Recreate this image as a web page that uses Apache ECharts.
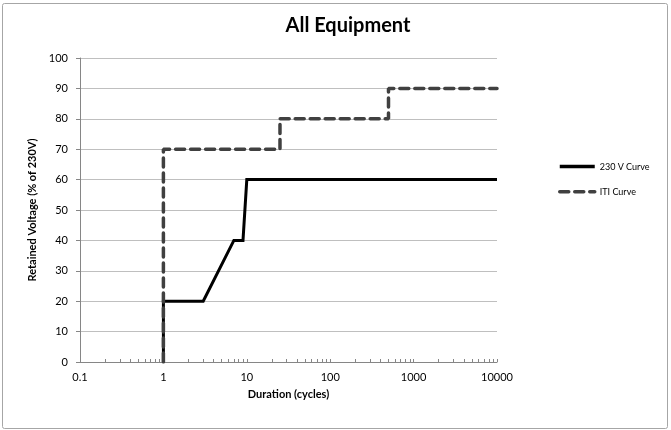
<!DOCTYPE html>
<html>
<head>
<meta charset="utf-8">
<script src="https://cdn.jsdelivr.net/npm/echarts@6/dist/echarts.min.js"></script>
<style>
html,body{margin:0;padding:0;background:#fff;}
#c{width:671px;height:430px;}
</style>
</head>
<body>
<div id="c"></div>
<script>
const titleText = "All Equipment";
const xAxisName = "Duration (cycles)";
const yAxisName = "Retained Voltage (% of 230V)";
const seriesNames = ["230 V Curve", "ITI Curve"];
const curve230 = [[1,0],[1,20],[3,20],[7,40],[9,40],[10,60],[10000,60]];
const curveITI = [[1,0],[1,70],[25,70],[25,80],[500,80],[500,90],[10000,90]];

const FONT = "Lato, 'Open Sans', sans-serif";
const chart = echarts.init(document.getElementById('c'), null, {renderer:'canvas'});
chart.setOption({
  animation:false,
  backgroundColor:'#fff',
  graphic:[{type:'rect', shape:{x:2.5,y:3.5,width:665,height:425,r:2}, style:{fill:'none',stroke:'#a6a6a6',lineWidth:1}, silent:true}],
  title:{text:titleText,left:343,top:11,textAlign:'center',textStyle:{fontFamily:FONT,fontSize:20,fontWeight:'bold',color:'#000'}},
  legend:{
    orient:'vertical', left:553, top:156, itemGap:14, itemWidth:35, itemHeight:14,
    itemStyle:{opacity:0},
    lineStyle:{width:3.5},
    textStyle:{fontFamily:FONT,fontSize:9,color:'#000'},
    data:seriesNames
  },
  grid:{left:80,right:174,top:58,bottom:68,containLabel:false},
  xAxis:{
    type:'log', logBase:10, min:0.1, max:10000,
    name:xAxisName, nameLocation:'middle', nameGap:27,
    nameTextStyle:{fontFamily:FONT,fontSize:11,fontWeight:'bold',color:'#000'},
    axisLine:{show:true,lineStyle:{color:'#868686',width:1}},
    axisTick:{show:true,inside:true,length:3,lineStyle:{color:'#868686'}},
    minorTick:{show:true,splitNumber:9,length:3,lineStyle:{color:'#868686'}},
    axisLabel:{fontFamily:FONT,fontSize:11,color:'#000',margin:10,
      formatter:function(v){return String(v);}},
    splitLine:{show:false}
  },
  yAxis:{
    type:'value', min:0, max:100, interval:10,
    name:yAxisName, nameLocation:'middle', nameGap:39, nameRotate:90,
    nameTextStyle:{fontFamily:FONT,fontSize:11,fontWeight:'bold',color:'#000'},
    axisLine:{show:true,lineStyle:{color:'#868686',width:1}},
    axisTick:{show:true,length:4,lineStyle:{color:'#868686'}},
    axisLabel:{fontFamily:FONT,fontSize:11,color:'#000',margin:12},
    splitLine:{show:true,lineStyle:{color:'#bfbfbf',width:1}}
  },
  series:[
    {name:seriesNames[0],type:'line',data:curve230,showSymbol:false,symbol:'none',
     lineStyle:{color:'#000',width:3,join:'miter'},itemStyle:{color:'#000'},z:3},
    {name:seriesNames[1],type:'line',data:curveITI,showSymbol:false,symbol:'none',
     lineStyle:{color:'#404040',width:3.5,type:[9,6],cap:'round'},itemStyle:{color:'#404040'},z:4}
  ]
});
</script>
</body>
</html>
